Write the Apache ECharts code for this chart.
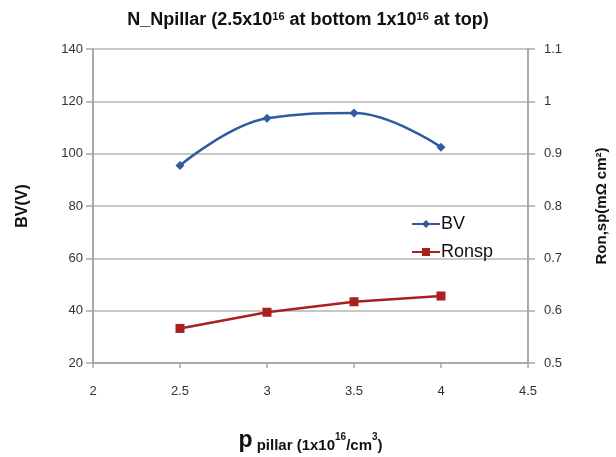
<!DOCTYPE html>
<html>
<head>
<meta charset="utf-8">
<script src="https://cdn.jsdelivr.net/npm/echarts@6/dist/echarts.min.js"></script>
<style>
  html, body { margin: 0; padding: 0; background: #fff; }
  #chart01 { width: 616px; height: 457px; }
</style>
</head>
<body>
<div id="chart01"></div>
<script>
// 数据
var pPillar = [2.5, 3, 3.5, 4];
var bvValues = [95.5, 113.5, 115.5, 102.5];
var ronspValues = [0.566, 0.597, 0.617, 0.628];
var bvTicks = [20, 140, 20];      // min, max, step
var ronTicks = [0.5, 1.1, 0.1];
var xTicks = [2, 4.5, 0.5];

function pairs(xs, ys) {
    var out = [];
    for (var i = 0; i < xs.length; i++) {
        out.push([xs[i], ys[i]]);
    }
    return out;
}

var myChart = echarts.init(document.getElementById('chart01'));
var axisGray = '#a8a8a8';
var labelFont = { color: '#333', fontSize: 13, fontFamily: 'Liberation Sans' };

option = {
    animation: false,
    title: {
        text: 'N_Npillar (2.5x10{sup|16} at bottom 1x10{sup|16} at top)',
        left: 'center',
        top: 6,
        textStyle: {
            fontFamily: 'Liberation Sans',
            fontWeight: 'bold',
            fontSize: 18,
            color: '#111',
            rich: {
                sup: { fontSize: 11, fontWeight: 'bold', verticalAlign: 'top', lineHeight: 12, fontFamily: 'Liberation Sans', color: '#111' }
            }
        }
    },
    grid: {
        left: 93,
        right: 88,
        top: 49,
        bottom: 94,
        outerBoundsMode: 'none'
    },
    legend: {
        orient: 'vertical',
        left: 406,
        top: 210,
        itemWidth: 28,
        itemHeight: 10,
        itemGap: 10,
        textStyle: { fontSize: 18, color: '#111', fontFamily: 'Liberation Sans', padding: [0, 0, 0, -4] },
        data: ['BV', 'Ronsp']
    },
    xAxis: {
        type: 'value',
        min: xTicks[0],
        max: xTicks[1],
        interval: xTicks[2],
        name: '{p|p} {t|pillar (1x10}{sup|16}{t|/cm}{sup|3}{t|)}',
        nameLocation: 'middle',
        nameGap: 66,
        nameTextStyle: {
            fontFamily: 'Liberation Sans',
            fontWeight: 'bold',
            fontSize: 15,
            color: '#111',
            rich: {
                p: { fontSize: 23, fontWeight: 'bold', fontFamily: 'Liberation Sans', color: '#111', lineHeight: 24 },
                t: { fontSize: 15, fontWeight: 'bold', fontFamily: 'Liberation Sans', color: '#111', lineHeight: 24, verticalAlign: 'bottom' },
                sup: { fontSize: 10, fontWeight: 'bold', fontFamily: 'Liberation Sans', color: '#111', lineHeight: 24, padding: [0, 0, 8, 0] }
            }
        },
        axisLine: { show: true, lineStyle: { color: axisGray, width: 2 } },
        axisTick: { show: true, length: 5, lineStyle: { color: axisGray, width: 1.5 } },
        axisLabel: Object.assign({ margin: 22 }, labelFont),
        splitLine: { show: false }
    },
    yAxis: [
        {
            type: 'value',
            min: bvTicks[0],
            max: bvTicks[1],
            interval: bvTicks[2],
            name: 'BV(V)',
            nameLocation: 'middle',
            nameGap: 62,
            nameTextStyle: { fontFamily: 'Liberation Sans', fontWeight: 'bold', fontSize: 16, color: '#111' },
            axisLine: { show: true, lineStyle: { color: axisGray, width: 2 } },
            axisTick: { show: true, length: 7, lineStyle: { color: axisGray, width: 1.5 } },
            axisLabel: Object.assign({ margin: 10 }, labelFont),
            splitLine: { show: true, lineStyle: { color: '#b4b4b4', width: 1.5 } }
        },
        {
            type: 'value',
            min: ronTicks[0],
            max: ronTicks[1],
            interval: ronTicks[2],
            position: 'right',
            name: 'Ron,sp(mΩ cm²)',
            nameLocation: 'middle',
            nameGap: 66,
            nameRotate: 90,
            nameTextStyle: { fontFamily: 'Liberation Sans', fontWeight: 'bold', fontSize: 15, color: '#111' },
            axisLine: { show: true, lineStyle: { color: axisGray, width: 2 } },
            axisTick: { show: true, length: 7, lineStyle: { color: axisGray, width: 1.5 } },
            axisLabel: Object.assign({ margin: 16, formatter: function (v) { return String(Math.round(v * 10) / 10); } }, labelFont),
            splitLine: { show: false }
        }
    ],
    series: [
        {
            name: 'BV',
            type: 'line',
            yAxisIndex: 0,
            smooth: 0.4,
            symbol: 'diamond',
            symbolSize: 9,
            itemStyle: { color: '#2f5c9e' },
            lineStyle: { color: '#2f5c9e', width: 2.5 },
            data: pairs(pPillar, bvValues)
        },
        {
            name: 'Ronsp',
            type: 'line',
            yAxisIndex: 1,
            symbol: 'rect',
            symbolSize: 9,
            itemStyle: { color: '#a8201f' },
            lineStyle: { color: '#a8201f', width: 2.5 },
            data: pairs(pPillar, ronspValues)
        }
    ]
};
myChart.setOption(option);
</script>
</body>
</html>
